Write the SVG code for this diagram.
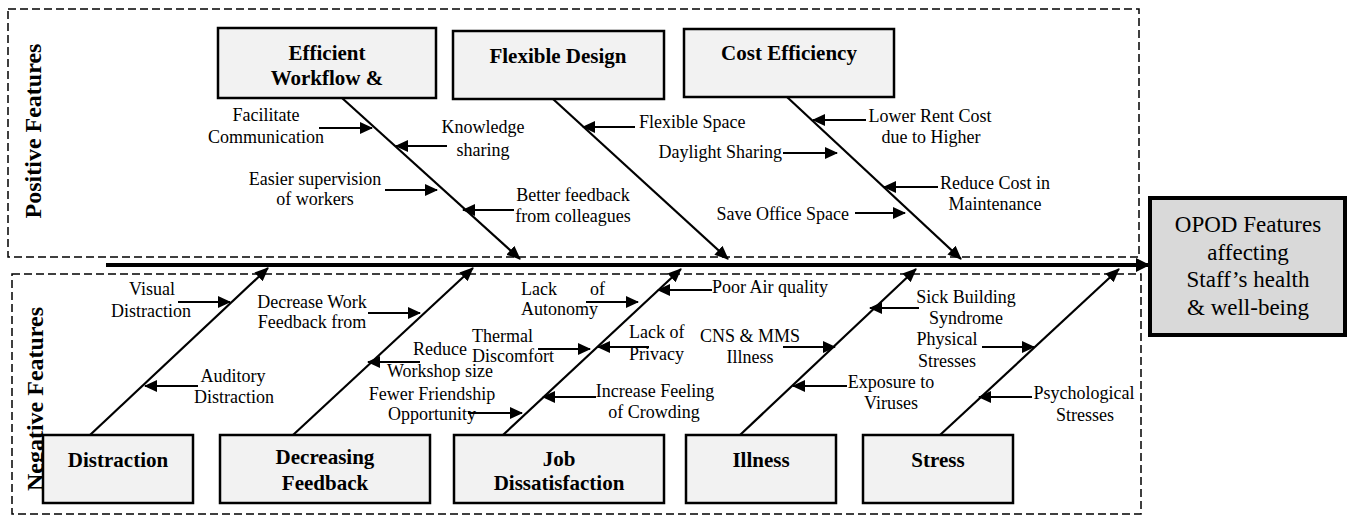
<svg xmlns="http://www.w3.org/2000/svg" width="1348" height="522" viewBox="0 0 1348 522">
<defs>
<style>
.bg{fill:#ffffff}
.frame{fill:none;stroke:#000;stroke-width:1.5;stroke-dasharray:8,4}
.box{fill:#f2f2f2;stroke:#000;stroke-width:2.5}
.effect{fill:#d9d9d9;stroke:#000;stroke-width:4}
.b{font-family:"Liberation Serif","Times New Roman",serif;font-weight:bold;font-size:21px;fill:#000;text-anchor:middle}
.t{font-family:"Liberation Serif","Times New Roman",serif;font-size:18px;fill:#000}
.m{text-anchor:middle}
.e{text-anchor:end}
.o{font-family:"Liberation Serif","Times New Roman",serif;font-size:23px;fill:#000;text-anchor:middle}
.side{font-family:"Liberation Serif","Times New Roman",serif;font-weight:bold;font-size:24px;fill:#000;text-anchor:middle}
.br{stroke:#000;stroke-width:2.2;fill:none;marker-end:url(#ah)}
.sm{stroke:#000;stroke-width:2;fill:none;marker-end:url(#as)}
.spine{stroke:#000;stroke-width:4;fill:none;marker-end:url(#ab)}
</style>
<marker id="ah" viewBox="0 0 14 12" refX="13" refY="6" markerWidth="14" markerHeight="12" orient="auto" markerUnits="userSpaceOnUse"><path d="M0,0 L14,6 L0,12 z" fill="#000"/></marker>
<marker id="as" viewBox="0 0 13 12" refX="12" refY="6" markerWidth="13" markerHeight="12" orient="auto" markerUnits="userSpaceOnUse"><path d="M0,0 L13,6 L0,12 z" fill="#000"/></marker>
<marker id="ab" viewBox="0 0 14 14" refX="13" refY="7" markerWidth="14" markerHeight="14" orient="auto" markerUnits="userSpaceOnUse"><path d="M0,0 L14,7 L0,14 z" fill="#000"/></marker>
</defs>
<rect class="bg" x="0" y="0" width="1348" height="522"/>

<g id="frames">
<rect class="frame" x="8" y="9" width="1131" height="248"/>
<rect class="frame" x="12" y="274" width="1129" height="240"/>
<text class="side" transform="translate(41,131) rotate(-90)">Positive Features</text>
<text class="side" transform="translate(43,399) rotate(-90)">Negative Features</text>
</g>

<g id="connectors">
<line class="spine" x1="106" y1="265" x2="1149" y2="265"/>
<line class="br" x1="342" y1="98" x2="520" y2="259"/>
<line class="br" x1="553" y1="99" x2="728" y2="259"/>
<line class="br" x1="787" y1="97" x2="961" y2="259"/>
<line class="br" x1="90" y1="435" x2="268" y2="268"/>
<line class="br" x1="293" y1="435" x2="473" y2="268"/>
<line class="br" x1="503" y1="435" x2="681" y2="269"/>
<line class="br" x1="740" y1="435" x2="916" y2="269"/>
<line class="br" x1="940" y1="435" x2="1119" y2="269"/>
<line class="sm" x1="319" y1="128" x2="372" y2="128"/>
<line class="sm" x1="447" y1="146" x2="396" y2="146"/>
<line class="sm" x1="385" y1="190" x2="437" y2="190"/>
<line class="sm" x1="514" y1="210" x2="463" y2="210"/>
<line class="sm" x1="635" y1="127" x2="583" y2="127"/>
<line class="sm" x1="783" y1="153" x2="837" y2="153"/>
<line class="sm" x1="855" y1="213" x2="905" y2="213"/>
<line class="sm" x1="866" y1="120" x2="813" y2="120"/>
<line class="sm" x1="938" y1="187" x2="884" y2="187"/>
<line class="sm" x1="178" y1="302" x2="230" y2="302"/>
<line class="sm" x1="198" y1="386" x2="145" y2="386"/>
<line class="sm" x1="368" y1="313" x2="420" y2="313"/>
<line class="sm" x1="420" y1="362" x2="368" y2="362"/>
<line class="sm" x1="468" y1="413" x2="522" y2="413"/>
<line class="sm" x1="586" y1="302" x2="638" y2="302"/>
<line class="sm" x1="712" y1="290" x2="658" y2="290"/>
<line class="sm" x1="538" y1="349" x2="590" y2="349"/>
<line class="sm" x1="649" y1="347" x2="598" y2="347"/>
<line class="sm" x1="596" y1="397" x2="543" y2="397"/>
<line class="sm" x1="783" y1="347" x2="835" y2="347"/>
<line class="sm" x1="919" y1="308" x2="870" y2="308"/>
<line class="sm" x1="847" y1="386" x2="793" y2="386"/>
<line class="sm" x1="982" y1="347" x2="1034" y2="347"/>
<line class="sm" x1="1032" y1="397" x2="979" y2="397"/>
</g>

<g id="labels">
<text class="t m" x="266" y="121">Facilitate</text>
<text class="t m" x="266" y="143">Communication</text>
<text class="t m" x="483" y="133">Knowledge</text>
<text class="t m" x="483" y="156">sharing</text>
<text class="t m" x="315" y="185">Easier supervision</text>
<text class="t m" x="315" y="205">of workers</text>
<text class="t m" x="573" y="201">Better feedback</text>
<text class="t m" x="573" y="222">from colleagues</text>
<text class="t" x="639" y="128">Flexible Space</text>
<text class="t e" x="782" y="158">Daylight Sharing</text>
<text class="t e" x="849" y="220">Save Office Space</text>
<text class="t m" x="930" y="122">Lower Rent Cost</text>
<text class="t m" x="931" y="143">due to Higher</text>
<text class="t m" x="995" y="189">Reduce Cost in</text>
<text class="t m" x="995" y="210">Maintenance</text>
<text class="t m" x="152" y="295">Visual</text>
<text class="t m" x="151" y="317">Distraction</text>
<text class="t m" x="233" y="382">Auditory</text>
<text class="t m" x="234" y="403">Distraction</text>
<text class="t m" x="312" y="308">Decrease Work</text>
<text class="t m" x="312" y="328">Feedback from</text>
<text class="t m" x="440" y="355">Reduce</text>
<text class="t m" x="440" y="377">Workshop size</text>
<text class="t m" x="432" y="400">Fewer Friendship</text>
<text class="t m" x="432" y="420">Opportunity</text>
<text class="t" x="521" y="295">Lack<tspan x="590">of</tspan></text>
<text class="t" x="521" y="315">Autonomy</text>
<text class="t" x="712" y="293">Poor Air quality</text>
<text class="t" x="472" y="342">Thermal</text>
<text class="t" x="472" y="362">Discomfort</text>
<text class="t" x="629" y="338">Lack of</text>
<text class="t" x="629" y="360">Privacy</text>
<text class="t m" x="655" y="397">Increase Feeling</text>
<text class="t m" x="654" y="418">of Crowding</text>
<text class="t m" x="750" y="342">CNS &amp; MMS</text>
<text class="t m" x="750" y="363">Illness</text>
<text class="t m" x="966" y="303">Sick Building</text>
<text class="t m" x="966" y="324">Syndrome</text>
<text class="t m" x="891" y="388">Exposure to</text>
<text class="t m" x="891" y="409">Viruses</text>
<text class="t m" x="947" y="345">Physical</text>
<text class="t m" x="947" y="367">Stresses</text>
<text class="t m" x="1084" y="399">Psychological</text>
<text class="t m" x="1085" y="421">Stresses</text>
</g>

<g id="node-efficient">
<rect class="box" x="218" y="28" width="218" height="70"/>
<text class="b" x="327" y="60">Efficient</text>
<text class="b" x="327" y="85">Workflow &amp;</text>
</g>
<g id="node-flexible">
<rect class="box" x="453" y="31" width="211" height="68"/>
<text class="b" x="558" y="63">Flexible Design</text>
</g>
<g id="node-cost">
<rect class="box" x="684" y="29" width="210" height="68"/>
<text class="b" x="789" y="60">Cost Efficiency</text>
</g>
<g id="node-distraction">
<rect class="box" x="43" y="435" width="150" height="68"/>
<text class="b" x="118" y="467">Distraction</text>
</g>
<g id="node-feedback">
<rect class="box" x="220" y="435" width="210" height="68"/>
<text class="b" x="325" y="464">Decreasing</text>
<text class="b" x="325" y="490">Feedback</text>
</g>
<g id="node-job">
<rect class="box" x="454" y="435" width="210" height="68"/>
<text class="b" x="559" y="466">Job</text>
<text class="b" x="559" y="490">Dissatisfaction</text>
</g>
<g id="node-illness">
<rect class="box" x="686" y="435" width="150" height="68"/>
<text class="b" x="761" y="467">Illness</text>
</g>
<g id="node-stress">
<rect class="box" x="863" y="435" width="150" height="68"/>
<text class="b" x="938" y="467">Stress</text>
</g>
<g id="node-opod">
<rect class="effect" x="1150" y="198" width="195" height="137"/>
<text class="o" x="1248" y="232">OPOD Features</text>
<text class="o" x="1248" y="260">affecting</text>
<text class="o" x="1248" y="287">Staff’s health</text>
<text class="o" x="1248" y="315">&amp; well-being</text>
</g>
</svg>
